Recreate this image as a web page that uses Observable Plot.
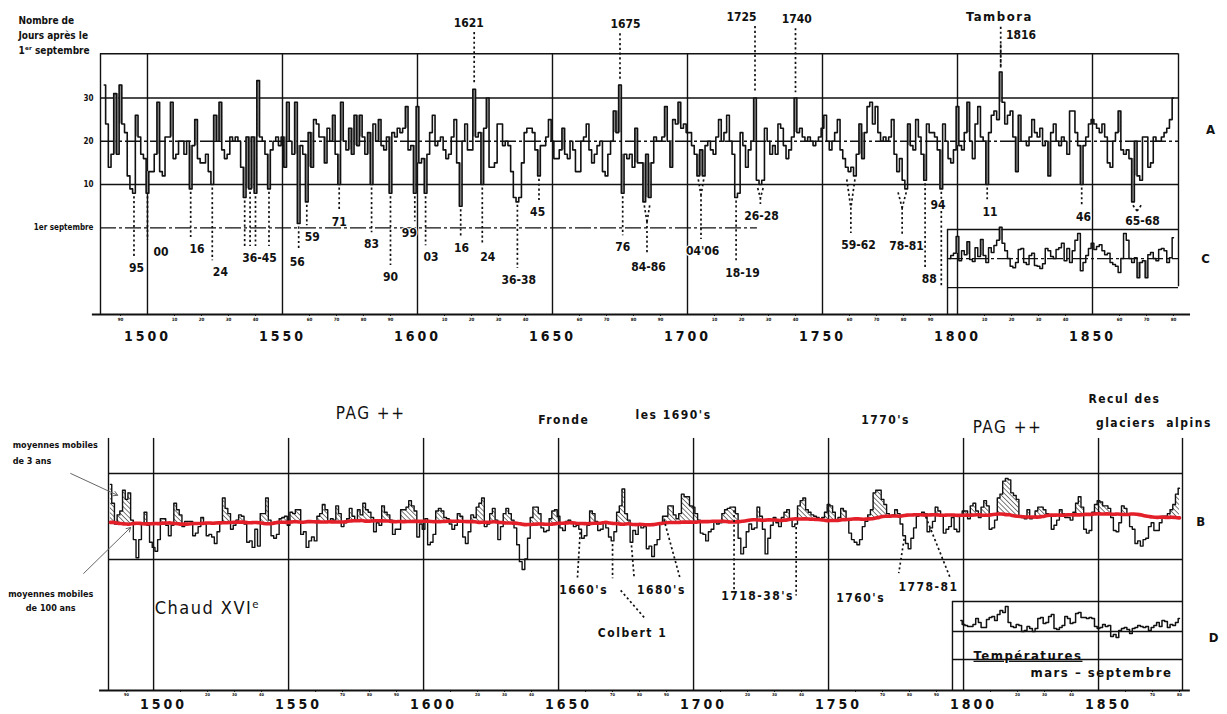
<!DOCTYPE html>
<html>
<head>
<meta charset="utf-8">
<script src="https://cdn.jsdelivr.net/npm/d3@7"></script>
<script src="https://cdn.jsdelivr.net/npm/@observablehq/plot@0.6"></script>
<style>
  body { margin: 0; background: #fff; }
  #wrap { position: relative; width: 1227px; height: 714px; overflow: hidden; background: #fff; }
  #wrap svg { position: absolute; left: 0; max-width: none; }
</style>
</head>
<body>
<div id="wrap"></div>
<script>
// ---------------- DATA (days after 1 September) ----------------
const harvest1484_1599 = [
  33,24,14,17,31,17,
  33,24,22,12,9,8,26,21,17,16,
  8,13,13,17,29,13,12,21,21,29,
  16,17,20,20,17,20,9,19,25,16,
  15,15,17,13,10,26,20,29,18,16,
  17,21,20,21,20,14,7,21,9,21,
  8,34,21,20,17,9,18,20,21,19,
  21,14,29,20,17,29,1,19,17,6,
  22,14,25,24,21,21,15,23,20,26,
  17,10,29,20,18,23,17,26,19,26,
  21,17,22,10,24,20,25,19,18,21,
  8,22,21,23,22,23,28,18,19,8];
const harvest1600_1699 = [
  28,15,16,8,17,22,26,19,20,21,
  18,16,17,21,25,15,5,20,24,18,
  18,32,21,22,10,23,30,14,14,15,
  24,24,19,20,19,13,7,6,7,15,
  22,23,23,22,18,12,19,19,21,25,
  20,16,16,18,23,17,16,20,18,13,
  13,20,21,24,18,15,17,19,20,13,
  12,17,20,27,22,33,8,17,16,17,
  14,23,15,15,6,17,7,15,21,20,
  20,21,28,20,14,25,24,29,23,24];
const harvest1700_1799 = [
  22,22,19,17,12,18,12,19,20,18,
  17,21,25,20,22,26,20,17,7,8,
  22,19,14,18,20,30,11,10,11,23,
  20,17,19,17,24,23,19,16,18,21,
  30,22,23,21,20,21,20,19,20,21,
  23,26,20,18,20,22,25,18,16,14,
  13,14,12,17,24,16,22,28,29,24,
  28,22,20,21,20,21,25,17,13,16,
  11,9,24,19,18,25,21,17,11,24,
  22,22,21,18,9,24,20,16,15,18];
const harvest1800_1880 = [
  28,19,18,22,29,20,16,24,28,21,
  20,10,22,26,27,25,36,29,24,26,
  27,21,13,26,20,20,19,21,25,22,
  21,23,19,20,12,22,24,20,19,21,
  20,17,27,27,22,19,10,19,21,24,
  25,24,23,22,24,21,15,14,20,22,
  27,18,17,18,16,6,20,12,11,21,
  21,14,15,21,20,20,21,22,23,25,
  30];
// Series C (second harvest series, days), 1797-1880
const seriesC1797 = [
  20,20.7,21.2,25.1,19.5,21.8,20.9,23.9,19.8,19.3,
  22.5,20.5,24.4,20.7,19.1,22.5,21.4,23,24.2,27.2,
  23.5,21.8,20,18.2,17.9,19.1,22.1,22.3,19.1,18.6,
  20.7,21.2,18.4,18.2,17.7,18.8,22.3,21.8,20.5,20,
  22.1,22.5,23.5,19.5,22.3,19.1,21.8,24.2,25.8,17.2,
  19.1,20.7,22.3,23.5,22.1,22.8,23.2,21.8,20.9,21.2,
  19.1,18.6,18.2,16.8,20,25.8,24.2,20,19.1,20.2,
  15.6,19.1,19.5,15.6,20.9,21.4,20,19.5,22.1,22.3,
  21.8,19.1,20.2,24.8];
// Series D (temperatures mars-septembre, index, cold upward), 1799-1880
const tempD1799 = [
  1.1,0.7,0.6,0.5,0.5,0.7,1.3,0.9,0.4,0.4,
  1.2,1.4,1.5,1.1,1.7,2.1,1.9,2.5,0.9,0.5,
  0.4,0.7,0.6,0.0,0.1,0.5,0.3,0.0,0.3,1.3,
  1.4,0.8,0.9,1.5,1.7,0.3,0.2,0.4,0.6,1.5,
  1.3,0.8,0.9,1.8,1.9,1.4,1.4,1.3,1.4,1.3,
  0.5,0.3,0.4,0.7,0.5,0.6,-0.5,-0.3,-0.6,0.1,
  0.3,0.4,0.2,-0.2,0.3,0.4,0.6,0.5,0.4,0.5,
  0.1,0.4,0.6,0.9,0.5,1.1,1.0,0.4,0.7,0.6,
  0.9,1.3];

const centuryTicks = [1500,1550,1600,1650,1700,1750,1800,1850];
const decadeTicks = [1490,1510,1520,1530,1540,1560,1570,1580,1590,1610,1620,1630,1640,1660,1670,1680,1690,
  1710,1720,1730,1740,1760,1770,1780,1790,1810,1820,1830,1840,1860,1870,1880];
const yTicksA = [0,10,20,30];

// annotations (years and days)
const lateNotes = [
  {label:"1621", year:1621, at:1619, lv:47.3},
  {label:"1675", year:1675, at:1677, lv:47.0},
  {label:"1725", year:1725, at:1720, lv:48.7},
  {label:"1740", year:1740, at:1740.5, lv:48.2},
  {label:"1816", year:1816, at:1823.5, lv:44.4}
];
const earlyNotes = [
  {label:"95", years:[1495], at:1495.9, lv:-9.2},
  {label:"00", years:[1500], at:1505, lv:-5.5},
  {label:"16", years:[1516], at:1518.3, lv:-4.8},
  {label:"24", years:[1524], at:1527, lv:-10.2},
  {label:"36-45", years:[1536,1538,1540,1545], at:1541.5, lv:-6.9},
  {label:"56", years:[1556], at:1555.5, lv:-7.8},
  {label:"59", years:[1559], at:1561, lv:-2.1},
  {label:"71", years:[1571], at:1571, lv:1.4},
  {label:"83", years:[1583], at:1583, lv:-3.7},
  {label:"90", years:[1590], at:1590, lv:-11.3},
  {label:"99", years:[1599], at:1597, lv:-1.2},
  {label:"03", years:[1603], at:1605, lv:-6.7},
  {label:"16", years:[1616], at:1616.3, lv:-4.6},
  {label:"24", years:[1624], at:1626, lv:-6.7},
  {label:"36-38", years:[1637], at:1637.5, lv:-12},
  {label:"45", years:[1645], at:1644.5, lv:3.7},
  {label:"76", years:[1676], at:1676, lv:-4.4},
  {label:"18-19", years:[1718], at:1720.4, lv:-10.4},
  {label:"88", years:[1788], at:1789.5, lv:-11.8},
  {label:"94", years:[1794], at:1792.8, lv:5.3, to:-13.6},
  {label:"11", years:[1811], at:1812, lv:3.7},
  {label:"46", years:[1846], at:1846.7, lv:2.5}
];
const forkNotes = [
  {label:"84-86", from:1684, to:1686, fork:1.4, at:1685.6, lv:-9},
  {label:"04'06", from:1704, to:1706, fork:7.6, at:1705.6, lv:-5.3},
  {label:"26-28", from:1726, to:1728, fork:6.9, at:1727.4, lv:2.8},
  {label:"59-62", from:1759, to:1762, fork:4.6, at:1763.3, lv:-3.9},
  {label:"78-81", from:1778, to:1781, fork:4.6, at:1781.1, lv:-4.2},
  {label:"65-68", from:1865, to:1868, fork:3.9, at:1868.5, lv:1.6}
];
const titleA = [
  {t:"Nombre de", v:47.9},
  {t:"Jours après le", v:44.4},
  {t:"1ᵉʳ septembre", v:40.9}
];
const panelLettersA = [{t:"A", x:1893.7, v:22.6}, {t:"C", x:1891.9, v:-7.1}];

const bTexts = [
  {t:"PAG ++", x:1580.4, v:46.7, s:17, w:"normal"},
  {t:"Fronde", x:1651.9, v:45.1, s:12, w:"bold"},
  {t:"les 1690's", x:1692.6, v:46.2, s:12, w:"bold"},
  {t:"1770's", x:1771.1, v:45.1, s:12, w:"bold"},
  {t:"PAG ++", x:1816.3, v:43.1, s:17, w:"normal"},
  {t:"Recul des", x:1859.6, v:50.5, s:12, w:"bold"},
  {t:"glaciers  alpins", x:1870.5, v:44.1, s:12, w:"bold"},
  {t:"Chaud XVIᵉ", x:1520, v:-3.3, s:18, w:"normal"},
  {t:"1660's", x:1659.3, v:1.3, s:12, w:"bold"},
  {t:"Colbert 1", x:1677.4, v:-9.7, s:12, w:"bold"},
  {t:"1680's", x:1688.1, v:1.3, s:12, w:"bold"},
  {t:"1718-38's", x:1723.7, v:-0.2, s:12, w:"bold"},
  {t:"1760's", x:1761.9, v:-0.75, s:12, w:"bold"},
  {t:"1778-81", x:1787, v:2.1, s:12, w:"bold"},
  {t:"B", x:1887.8, v:19, s:13, w:"bold"},
  {t:"D", x:1892.6, v:-11, s:13, w:"bold"}
];
const bLeftTexts = [
  {t:"moyennes mobiles", x:1447.8, v:38.5, a:"start"},
  {t:"de 3 ans", x:1447.8, v:34.4, a:"start"},
  {t:"moyennes mobiles", x:1461.9, v:0.3, a:"middle"},
  {t:"de 100 ans", x:1461.9, v:-3.3, a:"middle"}
];
const bArrows = [
  {x1:1469.3, v1:31.3, x2:1486.7, v2:25.7},
  {x1:1474.1, v1:5.65, x2:1491.5, v2:17.45}
];
const bLinks = [
  {from:1658, to:1657, end:4.6},
  {from:1670, to:1670, end:4.4},
  {from:1677, to:1678, end:4.6},
  {from:1689, to:1695, end:4.4},
  {from:1715, to:1715, end:1.3},
  {from:1738, to:1738, end:0},
  {from:1778, to:1776, end:5.7},
  {from:1786, to:1795, end:4.6}
];
const colbertLink = [{x1:1673, v1:1.3, x2:1682, v2:-5.9}];
const dTexts = [
  {t:"Températures", x:1803.7, v:-2.4, s:13},
  {t:"mars – septembre", x:1824.8, v:-4.15, s:13}
];

// ---------------- helpers ----------------
const FONT = '"Liberation Sans Narrow","DejaVu Sans Condensed","Liberation Sans",Arial,sans-serif';
const series = (first, values) => values.map((v, i) => ({year: first + i, value: v}));
const A = [
  ...series(1484, harvest1484_1599), ...series(1600, harvest1600_1699),
  ...series(1700, harvest1700_1799), ...series(1800, harvest1800_1880)
];
const C = series(1797, seriesC1797);
const D = series(1799, tempD1799);
const valA = new Map(A.map(d => [d.year, d.value]));
const yearFmt = d => String(d);
const decadeFmt = d => String(d).slice(2);

function spikes(data, thr) {
  const out = [];
  for (let i = 1; i < data.length - 1; i++) {
    const p = data[i-1].value, c = data[i].value, n = data[i+1].value;
    if (c - Math.max(p, n) >= thr) out.push({year: data[i].year, base: Math.max(p, n), value: c});
    else if (Math.min(p, n) - c >= thr) out.push({year: data[i].year, base: Math.min(p, n), value: c});
  }
  return out;
}
// moving averages as labelled in the chart (3-year and 100-year)
function movingMean(values, before, after) {
  return values.map((_, i) => d3.mean(values.slice(Math.max(0, i - before), Math.min(values.length, i + after + 1))));
}
const vals = A.map(d => d.value);
const ma3 = movingMean(vals, 1, 1);
const ma100 = movingMean(vals, 50, 49);
const B = A.map((d, i) => ({year: d.year, ma3: ma3[i], ma100: ma100[i]}));
const maB = new Map(B.map(d => [d.year, d.ma3]));

// ---------------- panel A ----------------
const xA = [1482.6, 1881.85];
const yA = [-20, 52.5];
const topA = 40.2;
const cTop = 26.7, cBot = 13.3, cStart = 1796.3;   // in C units
const cBotInA = -13.6;
const septEnd = 1725.9;

const earlyLines = earlyNotes.flatMap(n => n.years.map(y => ({x: y, y1: valA.get(y) - 0.8, y2: n.to !== undefined ? n.to : n.lv + 2.6})));
const lateLines = lateNotes.map(n => ({x: n.year, y1: n.lv - 2.2, y2: valA.get(n.year) + 1.2}));
const forkArms = forkNotes.flatMap(n => {
  const lo = d3.min(d3.range(n.from, n.to + 1), y => valA.get(y)) - 0.8;
  const mid = (n.from + n.to) / 2;
  return [{x1: n.from, y1: lo, x2: mid, y2: n.fork}, {x1: n.to, y1: lo, x2: mid, y2: n.fork}];
});
const forkStems = forkNotes.filter(n => n.fork > n.lv + 2.8).map(n => ({x: (n.from + n.to) / 2, y1: n.fork, y2: n.lv + 2.6}));
const dotted = {stroke: "#111", strokeWidth: 1.7, strokeDasharray: "2.2,2.6"};

const plotA = Plot.plot({
  width: 1227, height: 350,
  marginLeft: 100, marginRight: 49, marginTop: 0, marginBottom: 36,
  x: {domain: xA}, y: {domain: yA},
  style: {background: "transparent", fontFamily: FONT, overflow: "visible", color: "#111"},
  marks: [
    Plot.ruleY([topA, 30, 10], {stroke: "#111", strokeWidth: 1.4}),
    Plot.ruleY([20], {stroke: "#111", strokeWidth: 1.3, strokeDasharray: "16,3,3,3"}),
    Plot.ruleY([0], {x1: xA[0], x2: septEnd, stroke: "#111", strokeWidth: 1.3, strokeDasharray: "16,3,3,3"}),
    Plot.ruleY([yA[0]], {x1: 1479.6, x2: 1886.3, stroke: "#111", strokeWidth: 2}),
    Plot.ruleX(centuryTicks, {y1: yA[0], y2: topA, stroke: "#111", strokeWidth: 1.4}),
    Plot.ruleX([xA[0]], {y1: yA[0], y2: topA, stroke: "#111", strokeWidth: 1.4}),
    Plot.ruleX([xA[1]], {y1: cBotInA, y2: topA, stroke: "#111", strokeWidth: 1.4}),
    Plot.rect(spikes(A, 5), {x1: d => d.year - 0.42, x2: d => d.year + 0.42, y1: "base", y2: "value", fill: "#8a8a8a"}),
    Plot.line(A, {x: "year", y: "value", curve: "step", stroke: "#111", strokeWidth: 1.6}),
    Plot.ruleX(earlyLines, {x: "x", y1: "y1", y2: "y2", ...dotted}),
    Plot.ruleX(lateLines, {x: "x", y1: "y1", y2: "y2", ...dotted}),
    Plot.ruleX([{x: 1816, y1: 46.3, y2: 36.8}], {x: "x", y1: "y1", y2: "y2", ...dotted}),
    Plot.link(forkArms, {x1: "x1", y1: "y1", x2: "x2", y2: "y2", ...dotted}),
    Plot.ruleX(forkStems, {x: "x", y1: "y1", y2: "y2", ...dotted}),
    Plot.text([...earlyNotes, ...forkNotes], {x: "at", y: "lv", text: "label", fontSize: 12, fontWeight: "bold", fill: "#111", stroke: "white", strokeWidth: 2, paintOrder: "stroke"}),
    Plot.text(lateNotes, {x: "at", y: "lv", text: "label", fontSize: 12, fontWeight: "bold", fill: "#111"}),
    Plot.text([{t: "Tambora"}], {x: 1815.5, y: 48.8, text: "t", fontSize: 13, fontWeight: "bold", fill: "#111"}),
    Plot.text(titleA, {x: 1452.2, y: "v", text: "t", textAnchor: "start", fontSize: 10, fontWeight: "bold", fill: "#111"}),
    Plot.text(panelLettersA, {x: "x", y: "v", text: "t", fontSize: 13, fontWeight: "bold", fill: "#111"}),
    Plot.axisY(yTicksA, {tickSize: 0, tickPadding: 7, fontSize: 8, fontWeight: "bold",
      tickFormat: d => d === 0 ? "1er septembre" : String(d)}),
    Plot.axisX(centuryTicks, {tickSize: 0, tickPadding: 17, fontSize: 14, fontWeight: "bold", tickFormat: yearFmt}),
    Plot.axisX(decadeTicks, {tickSize: 2, tickPadding: 1, fontSize: 4.5, fontWeight: "bold", tickFormat: decadeFmt})
  ]
});

// ---------------- inset C ----------------
const plotC = Plot.plot({
  width: 1227, height: 350,
  marginLeft: 100, marginRight: 49, marginTop: 0, marginBottom: 36,
  x: {domain: xA, axis: null}, y: {domain: [7.1, 79.5], axis: null},
  style: {background: "transparent", fontFamily: FONT, overflow: "visible"},
  marks: [
    Plot.ruleY([cTop, cBot], {x1: cStart, x2: xA[1], stroke: "#111", strokeWidth: 1.4}),
    Plot.ruleY([20], {x1: cStart, x2: xA[1], stroke: "#111", strokeWidth: 1.2, strokeDasharray: "16,3,3,3"}),
    Plot.ruleX([cStart], {y1: 7.1, y2: cTop, stroke: "#111", strokeWidth: 1.4}),
    Plot.rect(spikes(C, 3), {x1: d => d.year - 0.42, x2: d => d.year + 0.42, y1: "base", y2: "value", fill: "#8a8a8a"}),
    Plot.line(C, {x: "year", y: "value", curve: "step", stroke: "#111", strokeWidth: 1.5})
  ]
});

// ---------------- panel B ----------------
const xB = [1483.3, 1881.1];
const yB = [-24.4, 60.3];
const topB = 40.3;
const bLinkData = bLinks.map(l => ({x1: l.from, y1: maB.get(l.from) - 0.8, x2: l.to, y2: l.end}));
const plotB = Plot.plot({
  width: 1227, height: 354,
  marginLeft: 108, marginRight: 45, marginTop: 0, marginBottom: 24,
  x: {domain: xB}, y: {domain: yB, axis: null},
  style: {background: "transparent", fontFamily: FONT, overflow: "visible", color: "#111"},
  marks: [
    Plot.ruleY([31.3, 9.24], {stroke: "#111", strokeWidth: 1.4}),
    Plot.ruleY([yB[0]], {x1: 1480, x2: 1884, stroke: "#111", strokeWidth: 2}),
    Plot.ruleX(centuryTicks, {y1: yB[0], y2: topB, stroke: "#111", strokeWidth: 1.4}),
    Plot.ruleX([xB[0], xB[1]], {y1: yB[0], y2: topB, stroke: "#111", strokeWidth: 1.4}),
    Plot.areaY(B, {x: "year", y1: "ma100", y2: d => Math.max(d.ma3, d.ma100), curve: "step", fill: "url(#hatchB)"}),
    Plot.line(B, {x: "year", y: "ma3", curve: "step", stroke: "#111", strokeWidth: 1.4}),
    Plot.line(B, {x: "year", y: "ma100", stroke: "#e3202a", strokeWidth: 3.6, curve: "basis"}),
    Plot.link(bLinkData, {x1: "x1", y1: "y1", x2: "x2", y2: "y2", ...dotted}),
    Plot.link(colbertLink, {x1: "x1", y1: "v1", x2: "x2", y2: "v2", ...dotted}),
    Plot.arrow(bArrows, {x1: "x1", y1: "v1", x2: "x2", y2: "v2", stroke: "#666", strokeWidth: 1, headLength: 7}),
    Plot.text(bTexts.filter(d => d.w === "bold"), {x: "x", y: "v", text: "t", fontSize: d => d.s, fontWeight: "bold", fill: "#111"}),
    Plot.text(bTexts.filter(d => d.w !== "bold"), {x: "x", y: "v", text: "t", fontSize: d => d.s, fontWeight: "normal", fill: "#111"}),
    Plot.text(bLeftTexts.filter(d => d.a === "start"), {x: "x", y: "v", text: "t", textAnchor: "start", fontSize: 9, fontWeight: "bold", fill: "#111"}),
    Plot.text(bLeftTexts.filter(d => d.a !== "start"), {x: "x", y: "v", text: "t", textAnchor: "middle", fontSize: 9, fontWeight: "bold", fill: "#111"}),
    Plot.axisX(centuryTicks, {tickSize: 0, tickPadding: 9, fontSize: 14, fontWeight: "bold", dx: 10, tickFormat: yearFmt}),
    Plot.axisX(decadeTicks, {tickSize: 2, tickFormat: () => ""}),
    Plot.axisX(decadeTicks.filter(d => d % 50 !== 10), {tickSize: 0, tickPadding: 2.5, fontSize: 4, fontWeight: "bold", tickFormat: decadeFmt})
  ]
});

// ---------------- inset D ----------------
const dStart = 1795.9;
const plotD = Plot.plot({
  width: 1227, height: 354,
  marginLeft: 108, marginRight: 45, marginTop: 0, marginBottom: 24,
  x: {domain: xB, axis: null}, y: {domain: [-5.9, 27.1], axis: null},
  style: {background: "transparent", fontFamily: FONT, overflow: "visible"},
  marks: [
    Plot.ruleY([3, 0, -2.8], {x1: dStart, x2: xB[1], stroke: "#111", strokeWidth: 1.4}),
    Plot.ruleX([dStart], {y1: -5.9, y2: 3, stroke: "#111", strokeWidth: 1.4}),
    Plot.line(D, {x: "year", y: "value", curve: "step", stroke: "#111", strokeWidth: 1.5}),
    Plot.text(dTexts, {x: "x", y: "v", text: "t", textAnchor: "start", fontSize: d => d.s, fontWeight: "bold", fill: "#111"})
  ]
});

// ---------------- assemble ----------------
const wrap = document.getElementById("wrap");
[[plotA, 0], [plotC, 0], [plotB, 360], [plotD, 360]].forEach(([svg, top]) => {
  svg.style.top = top + "px";
  wrap.appendChild(svg);
});

// hatch pattern for panel B
const defs = d3.select(plotB).insert("defs", ":first-child");
defs.append("pattern")
  .attr("id", "hatchB").attr("patternUnits", "userSpaceOnUse")
  .attr("width", 3.4).attr("height", 3.4).attr("patternTransform", "rotate(-45)")
  .append("line").attr("x1", 0).attr("y1", 0).attr("x2", 0).attr("y2", 3.4)
  .attr("stroke", "#111").attr("stroke-width", 1.1);

// typographic touches
const spaced = new Set(["1500","1550","1600","1650","1700","1750","1800","1850","PAG ++","glaciers  alpins","Recul des","Fronde","mars – septembre","1770's","les 1690's","Chaud XVIᵉ","Colbert 1","1778-81","1718-38's","1660's","1680's","1760's","Tambora","Températures"]);
d3.selectAll("#wrap svg text").each(function() {
  const t = this.textContent;
  if (spaced.has(t)) this.style.letterSpacing = /^1[5-8][05]0$/.test(t) ? "3px" : "1.5px";
  if (t === "Températures") this.style.textDecoration = "underline";
  if (t === "glaciers  alpins") this.style.whiteSpace = "pre";
});
</script>
</body>
</html>
